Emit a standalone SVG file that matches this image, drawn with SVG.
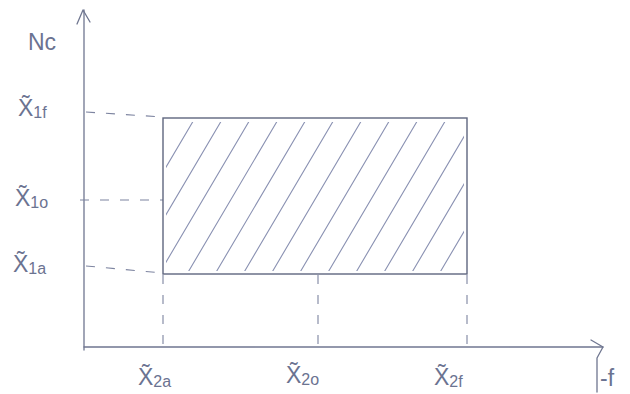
<svg xmlns="http://www.w3.org/2000/svg" width="630" height="394" viewBox="0 0 630 394">
<style>
.ax{stroke:#6f7690;stroke-width:1.3;fill:none;stroke-linecap:round;stroke-linejoin:round}
.rect{stroke:#5f667f;stroke-width:1.4;fill:none}
.dash{stroke:#7d84a0;stroke-width:1.1;fill:none;stroke-dasharray:9 11}
.hatch{stroke:#8a91b2;stroke-width:1.1;fill:none;stroke-linecap:round}
.lbl{font-family:"Liberation Sans",Arial,sans-serif;fill:#6b7391;font-size:23px}
.sub{font-size:16px}
</style>
<defs>
<clipPath id="rc"><rect x="166" y="122" width="298" height="149"/></clipPath>
</defs>
<rect width="630" height="394" fill="#ffffff"/>
<g id="connectors">
<path class="ax" d="M84,350 L84,10"/>
<path class="ax" d="M77,24 L83,10 L90,22"/>
<path class="ax" d="M84,347 L603,347"/>
<path class="ax" d="M591,340 L603,347 L597,358 L597,392"/>
<path class="dash" d="M86,112 L163,117"/>
<path class="dash" d="M80,200 L163,200"/>
<path class="dash" d="M86,266 L163,273"/>
<path class="dash" d="M163,275 L163,347"/>
<path class="dash" d="M318,275 L318,347"/>
<path class="dash" d="M467,275 L467,347"/>
</g>
<g id="region">
<rect class="rect" x="163" y="118" width="304" height="156"/>
<g clip-path="url(#rc)">
<path class="hatch" d="M75,274 L167,118 M103,274 L195,118 M131,274 L223,118 M159,274 L251,118 M187,274 L279,118 M215,274 L307,118 M243,274 L335,118 M271,274 L363,118 M299,274 L391,118 M327,274 L419,118 M355,274 L447,118 M383,274 L475,118 M411,274 L503,118 M439,274 L531,118 M467,274 L559,118"/>
</g>
</g>
<g id="labels">
<text class="lbl" x="28" y="50">Nc</text>
<text class="lbl" x="18" y="116">X̃<tspan class="sub" dy="2">1f</tspan></text>
<text class="lbl" x="15" y="206">X̃<tspan class="sub" dy="2">1o</tspan></text>
<text class="lbl" x="13" y="272">X̃<tspan class="sub" dy="2">1a</tspan></text>
<text class="lbl" x="138" y="385">X̃<tspan class="sub" dy="2">2a</tspan></text>
<text class="lbl" x="286" y="383">X̃<tspan class="sub" dy="2">2o</tspan></text>
<text class="lbl" x="434" y="385">X̃<tspan class="sub" dy="2">2f</tspan></text>
<text class="lbl" x="600" y="386" font-size="19">-f</text>
</g>
</svg>
